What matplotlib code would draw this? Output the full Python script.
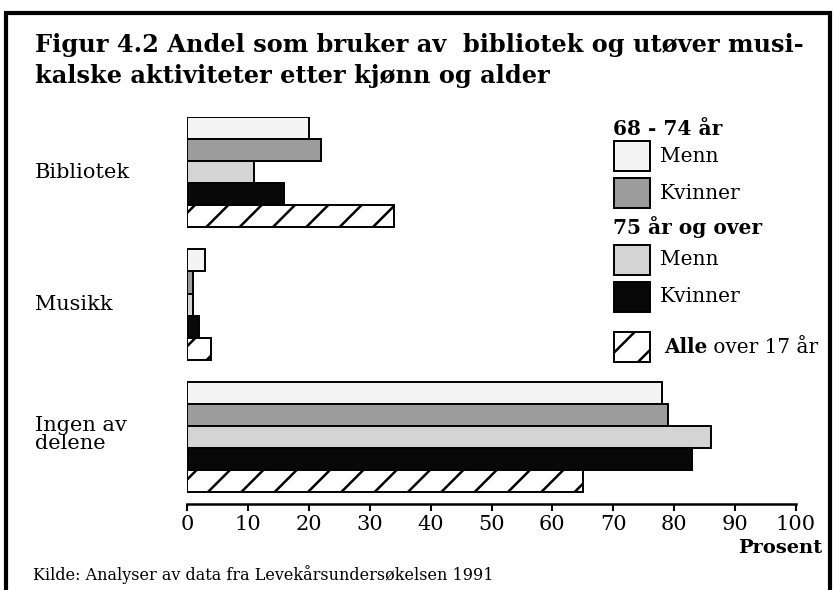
import matplotlib
matplotlib.use('Agg')
import matplotlib.pyplot as plt
import matplotlib.transforms as mtransforms
from matplotlib.patches import Rectangle
import numpy as np

categories = ['Bibliotek', 'Musikk', 'Ingen av\ndelene']
menn_68_74 = [20, 3, 78]
kvinner_68_74 = [22, 1, 79]
menn_75 = [11, 1, 86]
kvinner_75 = [16, 2, 83]
alle_17 = [34, 4, 65]

series = [menn_68_74, kvinner_68_74, menn_75, kvinner_75, alle_17]
fills = ['#f4f4f4', '#9c9c9c', '#d4d4d4', '#080808', 'white']
hatches = [None, None, None, None, '/']

W, H = 834, 590

plt.rcParams['font.family'] = 'DejaVu Serif'
plt.rcParams['hatch.linewidth'] = 1.8


def fpos(x, y):
    # pixel position (from top left) -> figure fraction
    return x / W, 1 - y / H


fig = plt.figure(figsize=(W / 100, H / 100), dpi=100)
ax = fig.add_axes([187 / W, 1 - 504 / H, 609 / W, 387 / H])

for k, vals in enumerate(series):
    y = np.arange(len(categories)) * 6 + k + 0.5
    ax.barh(y, vals, height=1, color=fills[k], edgecolor='black', lw=1.4,
            hatch=hatches[k])

ax.set_xlim(0, 100)
ax.set_ylim(17.54, 0)
ax.set_yticks([])
ax.set_xticks(range(0, 101, 10))
ax.tick_params(axis='x', length=5, width=1.5, labelsize=15, pad=3)
for s in ['top', 'left', 'right']:
    ax.spines[s].set_visible(False)
ax.spines['bottom'].set_linewidth(1.8)

# category labels at the left
trans = mtransforms.blended_transform_factory(fig.transFigure, ax.transData)
for i, cat in enumerate(categories):
    yc = i * 6 + 2.5 - (0.1 if '\n' in cat else 0)
    ax.text(35 / W, yc, cat, transform=trans, fontsize=15, va='center',
            ha='left', linespacing=0.95)

# title
fig.text(*fpos(35, 45), 'Figur 4.2 Andel som bruker av  bibliotek og utøver musi-',
         fontsize=17.3, fontweight='bold', va='center')
fig.text(*fpos(35, 76), 'kalske aktiviteter etter kjønn og alder',
         fontsize=17.3, fontweight='bold', va='center')

# legend
fig.text(*fpos(613, 129), '68 - 74 år', fontsize=14.5, fontweight='bold', va='center')
fig.text(*fpos(613, 227), '75 år og over', fontsize=14.5, fontweight='bold', va='center')
leg_labels = ['Menn', 'Kvinner', 'Menn', 'Kvinner']
leg_y = [156, 193, 260, 297]
for k in range(4):
    x0, y0 = fpos(614, leg_y[k] + 15)
    r = Rectangle((x0, y0), 36 / W, 30 / H, transform=fig.transFigure,
                  facecolor=fills[k], edgecolor='black', lw=1.4)
    fig.add_artist(r)
    fig.text(*fpos(660, leg_y[k]), leg_labels[k], fontsize=14.5, va='center')

x0, y0 = fpos(614, 362)
r = Rectangle((x0, y0), 36 / W, 30 / H, transform=fig.transFigure,
              facecolor=fills[4], edgecolor='black', lw=1.4, hatch=hatches[4])
fig.add_artist(r)
t_alle = fig.text(*fpos(664, 347), 'Alle', fontsize=14.4, fontweight='bold', va='center')
ax.annotate(' over 17 år', xy=(1, 0), xycoords=t_alle, fontsize=14.4,
            va='bottom', ha='left', annotation_clip=False)

fig.text(*fpos(822, 548), 'Prosent', fontsize=14, fontweight='bold',
         ha='right', va='center')
fig.text(*fpos(33, 575), 'Kilde: Analyser av data fra Levekårsundersøkelsen 1991',
         fontsize=11.5, va='center')

# frame round the figure
fig.add_artist(Rectangle((6 / W, -0.1), (830 - 6) / W, 1.1 - 13 / H,
                         transform=fig.transFigure, fill=False,
                         edgecolor='black', lw=3))

fig.savefig('out.png', dpi=100)
